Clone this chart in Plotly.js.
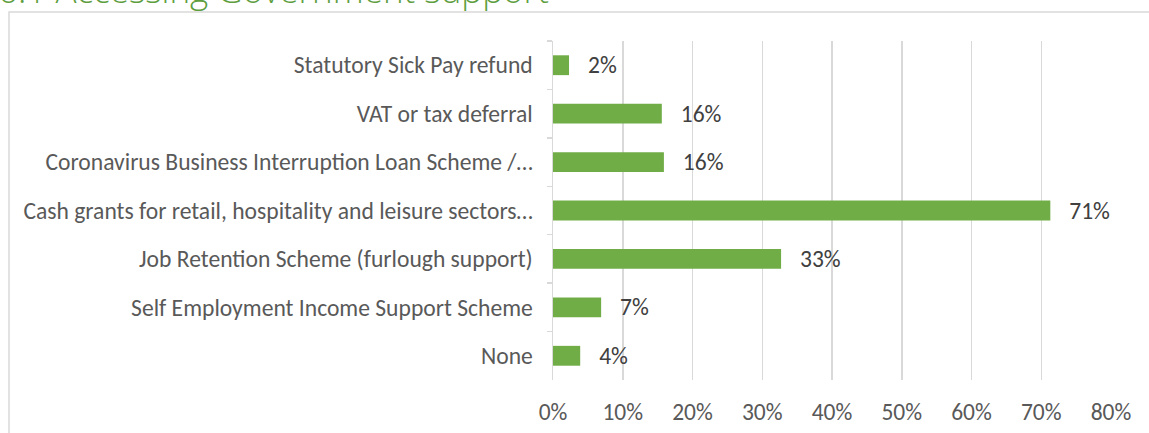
<!DOCTYPE html>
<html>
<head>
<meta charset="utf-8">
<script src="https://cdn.plot.ly/plotly-3.0.1.min.js"></script>
<style>html,body{margin:0;padding:0;background:#fff;}#chart{width:1149px;height:433px;}</style>
</head>
<body>
<div id="chart"></div>
<script>
const chartTitle = "6.1 Accessing Government support";
const categories = [
  "Statutory Sick Pay refund",
  "VAT or tax deferral",
  "Coronavirus Business Interruption Loan Scheme /…",
  "Cash grants for retail, hospitality and leisure sectors…",
  "Job Retention Scheme (furlough support)",
  "Self Employment Income Support Scheme",
  "None"
];
const shares = [0.023, 0.156, 0.159, 0.713, 0.327, 0.069, 0.039];
const xTickValues = [0, 0.1, 0.2, 0.3, 0.4, 0.5, 0.6, 0.7, 0.8];

const W = 1149, H = 433;
const L = 553, R = 38, T = 41, B = 53;
const pw = W - L - R, ph = H - T - B;
const px = x => (x - L) / pw;
const py = y => (H - B - y) / ph;

const font = "Calibri, Carlito, 'Open Sans', sans-serif";

Plotly.newPlot("chart", [{
  type: "bar",
  orientation: "h",
  y: categories,
  x: shares,
  marker: {color: "#70ad47"},
  texttemplate: "\u00a0\u00a0\u00a0%{x:.0%}",
  textposition: "outside",
  constraintext: "none",
  cliponaxis: false,
  textfont: {family: font, size: 23.5, color: "#404040"},
  hoverinfo: "skip"
}], {
  width: W, height: H,
  margin: {l: L, r: R, t: T, b: B, pad: 0},
  paper_bgcolor: "#fff", plot_bgcolor: "#fff",
  bargap: 0.59,
  showlegend: false,
  font: {family: font, color: "#595959"},
  xaxis: {
    range: [0, 0.8],
    tickvals: xTickValues,
    tickformat: ".0%",
    showgrid: true, gridcolor: "#d9d9d9", gridwidth: 1.5,
    zeroline: false, showline: false, ticks: "",
    ticklabelstandoff: 15,
    tickfont: {family: font, size: 23.5, color: "#595959"},
    fixedrange: true
  },
  yaxis: {
    autorange: "reversed",
    type: "category",
    showline: true, linecolor: "#d9d9d9", linewidth: 1.5,
    ticks: "outside", ticklen: 5, tickcolor: "#d9d9d9", tickwidth: 1.5,
    tickson: "boundaries",
    showgrid: false, zeroline: false,
    ticklabelstandoff: 14,
    tickfont: {family: font, size: 23.6, color: "#595959"},
    fixedrange: true
  },
  shapes: [{
    type: "rect", xref: "paper", yref: "paper",
    x0: px(9), x1: px(1160), y0: py(440), y1: py(12),
    line: {color: "#d9d9d9", width: 1.5}, fillcolor: "rgba(0,0,0,0)", layer: "below"
  }],
  annotations: [{
    text: chartTitle, xref: "paper", yref: "paper",
    x: px(-4), y: py(15), xanchor: "left", yanchor: "bottom",
    showarrow: false,
    font: {family: "'Open Sans', sans-serif", size: 35, color: "#5e9e3f", weight: 300}
  }]
}, {displayModeBar: false, staticPlot: true});
</script>
</body>
</html>
